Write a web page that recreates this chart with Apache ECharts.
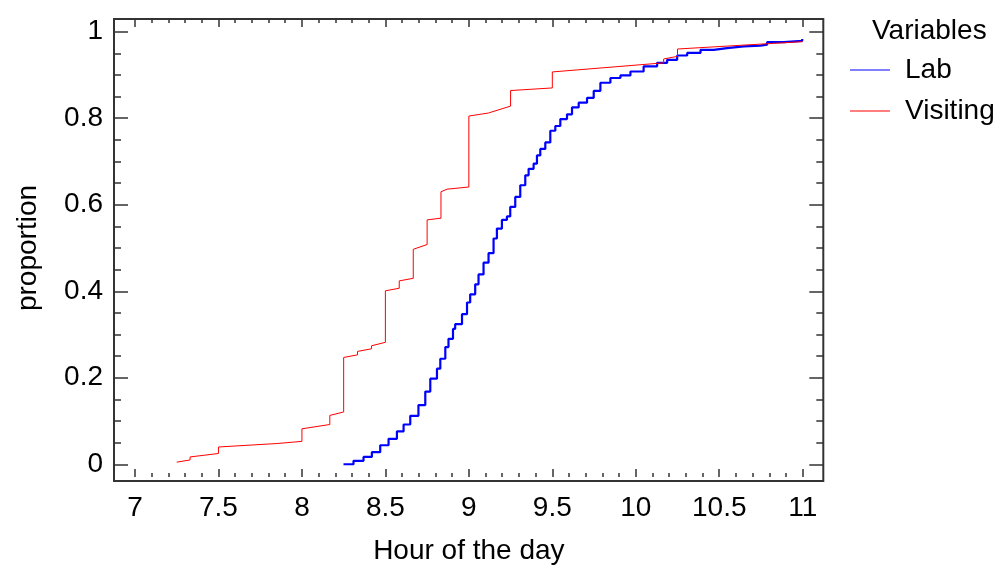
<!DOCTYPE html>
<html>
<head>
<meta charset="utf-8">
<script src="https://cdn.jsdelivr.net/npm/echarts@6/dist/echarts.min.js"></script>
<style>html,body{margin:0;padding:0;background:#fff;}#c{width:1002px;height:570px;}</style>
</head>
<body>
<div id="c"></div>
<script>
// Lab: hour of day (x) and cumulative proportion (y)
var labHour = [8.249,8.309,8.369,8.419,8.469,8.519,8.569,8.609,8.649,8.698,8.739,8.769,8.809,8.829,8.859,8.878,8.905,8.918,8.959,8.989,9.008,9.038,9.058,9.088,9.118,9.148,9.168,9.198,9.228,9.248,9.278,9.308,9.338,9.358,9.388,9.408,9.428,9.458,9.488,9.518,9.548,9.588,9.618,9.658,9.708,9.748,9.788,9.848,9.908,9.968,10.047,10.128,10.188,10.248,10.308,10.388,10.467,10.547,10.647,10.747,10.787,10.887,10.997];
var labProp = [0,0.008,0.017,0.028,0.044,0.059,0.076,0.092,0.112,0.137,0.168,0.198,0.221,0.244,0.271,0.290,0.313,0.324,0.347,0.374,0.393,0.416,0.439,0.466,0.488,0.522,0.545,0.565,0.573,0.595,0.618,0.645,0.668,0.683,0.695,0.714,0.729,0.744,0.771,0.782,0.798,0.809,0.825,0.836,0.847,0.863,0.882,0.893,0.899,0.908,0.920,0.928,0.935,0.945,0.951,0.958,0.962,0.966,0.968,0.970,0.976,0.979,0.983];
// Visiting
var visitHour = [7.25,7.33,7.33,7.5,7.5,7.85,8.0,8.0,8.167,8.167,8.25,8.25,8.333,8.333,8.417,8.417,8.5,8.5,8.583,8.583,8.667,8.667,8.75,8.75,8.833,8.833,8.87,9.0,9.0,9.117,9.25,9.25,9.5,9.5,10.167,10.167,10.25,10.25,11.0];
var visitProp = [0.005,0.010,0.017,0.025,0.040,0.048,0.053,0.082,0.092,0.113,0.121,0.247,0.253,0.261,0.267,0.274,0.282,0.401,0.407,0.424,0.430,0.497,0.508,0.565,0.569,0.630,0.636,0.641,0.805,0.812,0.828,0.864,0.870,0.907,0.928,0.937,0.943,0.960,0.977];
var seriesNames = ['Lab','Visiting'];
var legendTitle = 'Variables';
var xName = 'Hour of the day';
var yName = 'proportion';

function pairs(xs, ys){ return xs.map(function(x,i){ return [x, ys[i]]; }); }

var FONT = 'Liberation Sans, Arial, Helvetica, sans-serif';
var TICKC = '#333';

var chart = echarts.init(document.getElementById('c'), null, {renderer:'canvas'});
var tickX = {show:true, inside:true, length:8, lineStyle:{color:TICKC, width:1.5}};
var minorX = {show:true, splitNumber:5, length:4, lineStyle:{color:TICKC, width:1.5}};
var tickY = {show:true, inside:true, length:14, lineStyle:{color:TICKC, width:1.5}};
var minorY = {show:true, splitNumber:4, length:7, lineStyle:{color:TICKC, width:1.5}};
var noLine = {show:false, onZero:false};

chart.setOption({
  animation:false,
  backgroundColor:'#fff',
  textStyle:{fontFamily:FONT},
  title:{text:legendTitle, left:872, top:17, padding:0, textStyle:{fontFamily:FONT, fontSize:28, fontWeight:'normal', color:'#000', lineHeight:28}},
  legend:{
    orient:'vertical', left:850, top:56, padding:0, itemGap:13,
    itemWidth:40, itemHeight:1.2, icon:'rect',
    data:seriesNames,
    textStyle:{fontFamily:FONT, fontSize:28, color:'#000', lineHeight:28, padding:[0,0,0,10]}
  },
  grid:[
    {left:135, right:199.3, top:31.7, bottom:101.7, show:false},
    {left:114, right:178.7, top:19, bottom:89, show:true, borderColor:'#333', borderWidth:2, backgroundColor:'transparent'}
  ],
  xAxis:[
    {type:'value', gridIndex:0, min:7, max:11, interval:0.5, position:'bottom', offset:12.7,
     axisLine:noLine, axisTick:tickX, minorTick:minorX, splitLine:{show:false},
     axisLabel:{fontFamily:FONT, fontSize:28, color:'#000', margin:17},
     name:xName, nameLocation:'middle', nameGap:60, nameTextStyle:{fontFamily:FONT, fontSize:28, color:'#000'}},
    {type:'value', gridIndex:0, min:7, max:11, interval:0.5, position:'top', offset:12.7,
     axisLine:noLine, axisTick:tickX, minorTick:minorX, splitLine:{show:false}, axisLabel:{show:false}},
    {type:'value', gridIndex:1, show:false, min:0, max:1}
  ],
  yAxis:[
    {type:'value', gridIndex:0, min:0, max:1, interval:0.2, position:'left', offset:21,
     axisLine:noLine, axisTick:tickY, minorTick:minorY, splitLine:{show:false},
     axisLabel:{fontFamily:FONT, fontSize:28, color:'#000', margin:11},
     name:yName, nameLocation:'middle', nameGap:72, nameRotate:90, nameTextStyle:{fontFamily:FONT, fontSize:28, color:'#000'}},
    {type:'value', gridIndex:0, min:0, max:1, interval:0.2, position:'right', offset:20.6,
     axisLine:noLine, axisTick:tickY, minorTick:minorY, splitLine:{show:false}, axisLabel:{show:false}},
    {type:'value', gridIndex:1, show:false, min:0, max:1}
  ],
  series:[
    {name:seriesNames[0], type:'line', xAxisIndex:0, yAxisIndex:0, data:pairs(labHour, labProp),
     step:'end', symbol:'none', color:'#0000ff', lineStyle:{color:'#0000ff', width:2.2}, z:2},
    {name:seriesNames[1], type:'line', xAxisIndex:0, yAxisIndex:0, data:pairs(visitHour, visitProp),
     symbol:'none', color:'#ff0000', lineStyle:{color:'#ff0000', width:1}, z:3}
  ]
});
</script>
</body>
</html>
